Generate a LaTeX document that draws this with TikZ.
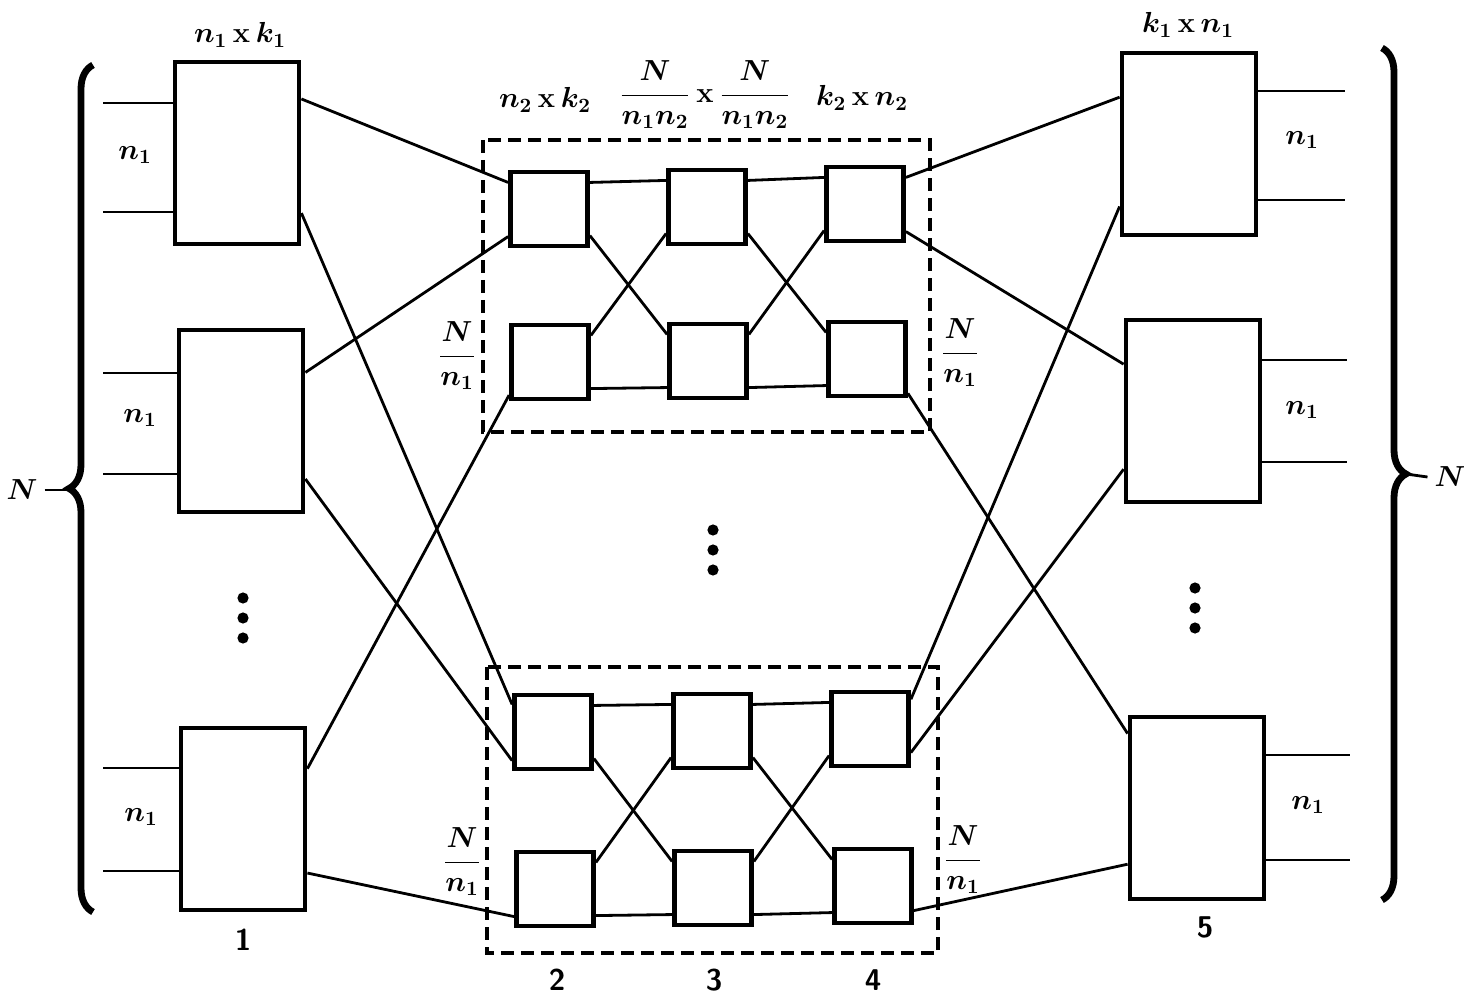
\RequirePackage{fix-cm}
\documentclass[tikz,border=0pt]{standalone}
\usepackage{amsmath}
\usetikzlibrary{decorations.pathreplacing}

\begin{document}
\begin{tikzpicture}[x=0.5pt, y=-0.5pt,
    bigbox/.style={draw, line width=2.4pt, minimum width=62pt, minimum height=91pt, inner sep=0pt},
    outbox/.style={bigbox, minimum width=67pt},
    smallbox/.style={draw, line width=2.4pt, minimum width=38.5pt, minimum height=37pt, inner sep=0pt},
    link/.style={line width=1.4pt},
    group/.style={line width=1.6pt, dash pattern=on 6.5pt off 3.5pt},
    curly/.style={decorate, decoration={brace, amplitude=12pt}, line width=3.4pt},
    lbl/.style={font=\fontsize{14.5}{17}\selectfont\boldmath},
    num/.style={font=\fontsize{15}{18}\selectfont\sffamily\bfseries}]
    \useasboundingbox (0,0) rectangle (1464,995);

    % first stage
    \node[bigbox] (A1) at (237,153) {};
    \node[bigbox] (A2) at (241,421) {};
    \node[bigbox] (A3) at (243,819) {};

    % last stage
    \node[outbox] (E1) at (1189,144) {};
    \node[outbox] (E2) at (1193,411) {};
    \node[outbox] (E3) at (1197,808) {};

    % middle stages
    \foreach \name/\x/\y in {B1/549/209, C1/707/207, D1/865/204,
                             B2/550/362, C2/708/361, D2/867/359,
                             B3/553/732, C3/712/731, D3/870/729,
                             B4/555/889, C4/713/888, D4/873/886}
        \node[smallbox] (\name) at (\x,\y) {};

    \draw[group] (483,140) rectangle (930,432);
    \draw[group] (487,667) rectangle (938,953);

    % inlets and outlets
    \foreach \blk/\ya/\yb in {A1/103/212, A2/373/474, A3/768/871} {
        \coordinate (\blk a) at (103,\ya);
        \coordinate (\blk b) at (103,\yb);
        \draw[link] (\blk a) -- (\blk a -| \blk.west);
        \draw[link] (\blk b) -- (\blk b -| \blk.west);
    }
    \foreach \blk/\ya/\yb/\xe in {E1/91/200/1345, E2/360/462/1347, E3/755/860/1350} {
        \coordinate (\blk a) at (\xe,\ya);
        \coordinate (\blk b) at (\xe,\yb);
        \draw[link] (\blk a -| \blk.east) -- (\blk a);
        \draw[link] (\blk b -| \blk.east) -- (\blk b);
    }

    % stage 1 -> stage 2
    \draw[link] (A1.40) -- (B1.147);
    \draw[link] (A1.-43) -- (B3.146);
    \draw[link] (A2.37) -- (B1.214);
    \draw[link] (A2.-42) -- (B3.215);
    \draw[link] (A3.38) -- (B2.219);
    \draw[link] (A3.-40) -- (B4.214);

    % inside the middle blocks
    \foreach \p/\q/\r/\s in {B1/C1/B2/C2, C1/D1/C2/D2, B3/C3/B4/C4, C3/D3/C4/D4} {
        \draw[link] (\p.33) -- (\q.147);
        \draw[link] (\p.-33) -- (\s.147);
        \draw[link] (\r.33) -- (\q.213);
        \draw[link] (\r.-33) -- (\s.213);
    }

    % stage 4 -> stage 5
    \draw[link] (D1.33) -- (E1.146);
    \draw[link] (D1.-34) -- (E2.146);
    \draw[link] (D2.-40) -- (E3.133);
    \draw[link] (D3.36) -- (E1.222);
    \draw[link] (D3.-30) -- (E2.220);
    \draw[link] (D4.-31) -- (E3.219);

    % braces
    \draw[curly] (93,912) -- (93,65);
    \draw[curly] (1382,48) -- (1382,900);
    \node[lbl] (NL) at (22,490) {$N$};
    \node[lbl] (NR) at (1450,477) {$N$};
    \coordinate (tipL) at (69,490);
    \coordinate (tipR) at (1406,474);
    \draw[link] (NL.east) -- (tipL);
    \draw[link] (tipR) -- (NR.west);

    % dots
    \foreach \x/\y in {243/598, 713/530, 1195/588}
        \foreach \k in {0,1,2}
            \fill (\x,\y+20*\k) circle (2.8pt);

    % labels
    \node[lbl] (s1) at (240,35) {$n_1\,\mathbf{x}\,k_1$};
    \node[lbl] (s2) at (545,100) {$n_2\,\mathbf{x}\,k_2$};
    \node[lbl] (s3) at (705,95) {$\dfrac{N}{n_1n_2}\,\mathbf{x}\,\dfrac{N}{n_1n_2}$};
    \node[lbl] (s4) at (862,98) {$k_2\,\mathbf{x}\,n_2$};
    \node[lbl] (s5) at (1188,25) {$k_1\,\mathbf{x}\,n_1$};

    \foreach \x/\y [count=\i] in {135/155, 140/418, 141/817, 1302/140, 1302/410, 1308/805}
        \node[lbl] (n\i) at (\x,\y) {$n_1$};
    \foreach \x/\y [count=\i] in {457/356, 462/862, 960/353, 963/860}
        \node[lbl] (f\i) at (\x,\y) {$\dfrac{N}{n_1}$};

    \node[num] (c1) at (243,940) {1};
    \node[num] (c2) at (557,980) {2};
    \node[num] (c3) at (714,980) {3};
    \node[num] (c4) at (873,980) {4};
    \node[num] (c5) at (1205,927) {5};
\end{tikzpicture}
\end{document}
